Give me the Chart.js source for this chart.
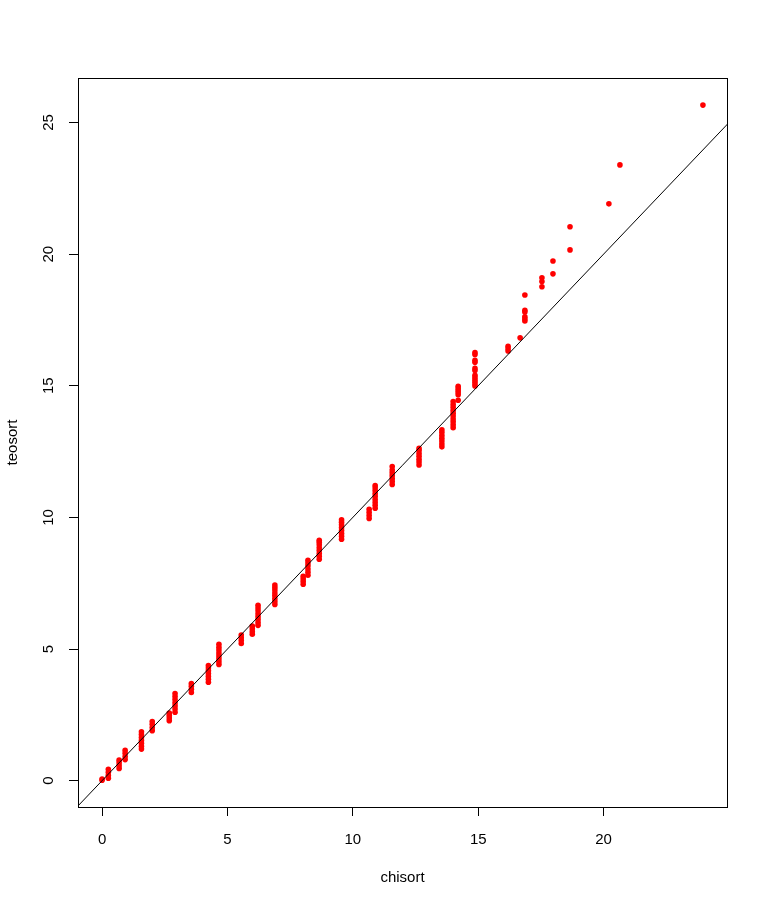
<!DOCTYPE html>
<html>
<head>
<meta charset="utf-8">
<script src="https://cdn.jsdelivr.net/npm/chart.js@4/dist/chart.umd.min.js"></script>
<style>
  html, body { margin: 0; padding: 0; background: #fff; }
  canvas { display: block; }
</style>
</head>
<body>
<canvas id="qq-chart" width="768" height="906"></canvas>
<script>
// distinct chisort values (x) and the teosort values (y) seen at each of them
const chisortLevels = [
  0.00, 0.25, 0.68, 0.92, 1.57, 2.00, 2.68, 2.91, 3.56, 4.24,
  4.66, 5.55, 5.99, 6.22, 6.89, 8.02, 8.21, 8.66, 9.55, 10.65,
  10.89, 11.57, 12.64, 13.55, 14.00, 14.20, 14.87, 16.19, 16.67, 16.86,
  17.54, 17.98, 18.66, 20.21, 20.65, 23.96,
];
const teosortGroups = [
  [0.02, 0.06],
  [0.09, 0.20, 0.32, 0.43],
  [0.46, 0.57, 0.68, 0.78],
  [0.80, 0.92, 1.04, 1.15],
  [1.20, 1.31, 1.42, 1.53, 1.64, 1.75, 1.86],
  [1.90, 2.02, 2.14, 2.25],
  [2.28, 2.38, 2.48, 2.57],
  [2.60, 2.72, 2.84, 2.96, 3.08, 3.20, 3.31],
  [3.35, 3.47, 3.59, 3.69],
  [3.74, 3.85, 3.96, 4.07, 4.18, 4.28, 4.37],
  [4.41, 4.52, 4.63, 4.74, 4.85, 4.96, 5.07, 5.18],
  [5.21, 5.32, 5.43, 5.53],
  [5.56, 5.66, 5.77, 5.87],
  [5.90, 6.01, 6.12, 6.23, 6.34, 6.45, 6.56, 6.66],
  [6.69, 6.80, 6.91, 7.02, 7.13, 7.24, 7.34, 7.43],
  [7.46, 7.57, 7.67, 7.76],
  [7.80, 7.92, 8.04, 8.16, 8.27, 8.37],
  [8.41, 8.52, 8.63, 8.74, 8.85, 8.96, 9.06, 9.13],
  [9.17, 9.28, 9.39, 9.50, 9.61, 9.72, 9.82, 9.91],
  [9.96, 10.07, 10.19, 10.31],
  [10.35, 10.46, 10.57, 10.68, 10.79, 10.90, 11.01, 11.12, 11.21],
  [11.25, 11.36, 11.47, 11.58, 11.69, 11.80, 11.93],
  [11.99, 12.10, 12.21, 12.32, 12.43, 12.54, 12.62],
  [12.68, 12.79, 12.90, 13.01, 13.12, 13.23, 13.33],
  [13.41, 13.52, 13.63, 13.74, 13.85, 13.96, 14.07, 14.18, 14.29, 14.40],
  [14.45, 14.66, 14.74, 14.82, 14.90, 14.98],
  [14.99, 15.07, 15.15, 15.23, 15.31, 15.40, 15.58, 15.66, 15.89, 15.97, 16.19, 16.26],
  [16.32, 16.41, 16.50],
  [16.82],
  [17.46, 17.54, 17.62, 17.80, 17.87, 18.45],
  [18.76, 18.96, 19.10],
  [19.25, 19.74],
  [20.16, 21.04],
  [21.91],
  [23.39],
  [25.66],
];

// abline(0, 1)
const lineX = [-2, 27];
const lineY = [-2, 27];

const xTicks = [0, 5, 10, 15, 20];
const yTicks = [0, 5, 10, 15, 20, 25];

const qqPoints = [];
chisortLevels.forEach((x, i) => {
  teosortGroups[i].forEach((y) => qqPoints.push({ x: x, y: y }));
});

const FONT = 'Liberation Sans, Arial, sans-serif';

const frameAndYLabels = {
  id: 'frameAndYLabels',
  afterDraw(chart) {
    const { ctx, chartArea } = chart;
    const yScale = chart.scales.y;
    ctx.save();
    ctx.strokeStyle = '#000';
    ctx.lineWidth = 1;
    ctx.strokeRect(chartArea.left + 0.5, chartArea.top + 0.5,
      chartArea.right - chartArea.left, chartArea.bottom - chartArea.top);
    ctx.fillStyle = '#000';
    ctx.font = '15px ' + FONT;
    ctx.textAlign = 'center';
    ctx.textBaseline = 'middle';
    yScale.ticks.forEach((t) => {
      ctx.save();
      ctx.translate(49, yScale.getPixelForValue(t.value));
      ctx.rotate(-Math.PI / 2);
      ctx.fillText(String(t.value), 0, 0);
      ctx.restore();
    });
    ctx.restore();
  },
};

new Chart(document.getElementById('qq-chart'), {
  type: 'scatter',
  data: {
    datasets: [
      {
        label: 'teosort',
        data: qqPoints,
        pointRadius: 2.8,
        pointBorderWidth: 0,
        pointBackgroundColor: '#ff0000',
        pointBorderColor: '#ff0000',
        showLine: false,
        order: 1,
      },
      {
        label: 'y = x',
        data: lineX.map((x, i) => ({ x: x, y: lineY[i] })),
        showLine: true,
        borderColor: '#000',
        borderWidth: 1,
        pointRadius: 0,
        order: 0,
      },
    ],
  },
  options: {
    responsive: false,
    animation: false,
    devicePixelRatio: 1,
    layout: { padding: { top: 78, right: 41, left: 0, bottom: 0 } },
    plugins: {
      legend: { display: false },
      tooltip: { enabled: false },
    },
    scales: {
      x: {
        type: 'linear',
        min: -0.96,
        max: 24.92,
        afterBuildTicks: (scale) => { scale.ticks = xTicks.map((v) => ({ value: v })); },
        afterFit: (scale) => { scale.height = 99; },
        grid: { drawOnChartArea: false, color: '#000', tickLength: 9, lineWidth: 1 },
        border: { display: true, color: '#000' },
        ticks: { color: '#000', font: { family: FONT, size: 15 }, padding: 15, maxRotation: 0 },
        title: {
          display: true,
          text: 'chisort',
          color: '#000',
          font: { family: FONT, size: 15 },
          padding: { top: 0, bottom: 19 },
        },
      },
      y: {
        type: 'linear',
        min: -1.0,
        max: 26.69,
        afterBuildTicks: (scale) => { scale.ticks = yTicks.map((v) => ({ value: v })); },
        afterFit: (scale) => { scale.width = 78; },
        grid: { drawOnChartArea: false, color: '#000', tickLength: 9, lineWidth: 1 },
        border: { display: true, color: '#000' },
        ticks: { display: false },
        title: {
          display: true,
          text: 'teosort',
          color: '#000',
          font: { family: FONT, size: 15 },
          padding: { top: 4, bottom: 0 },
        },
      },
    },
  },
  plugins: [frameAndYLabels],
});
</script>
</body>
</html>
